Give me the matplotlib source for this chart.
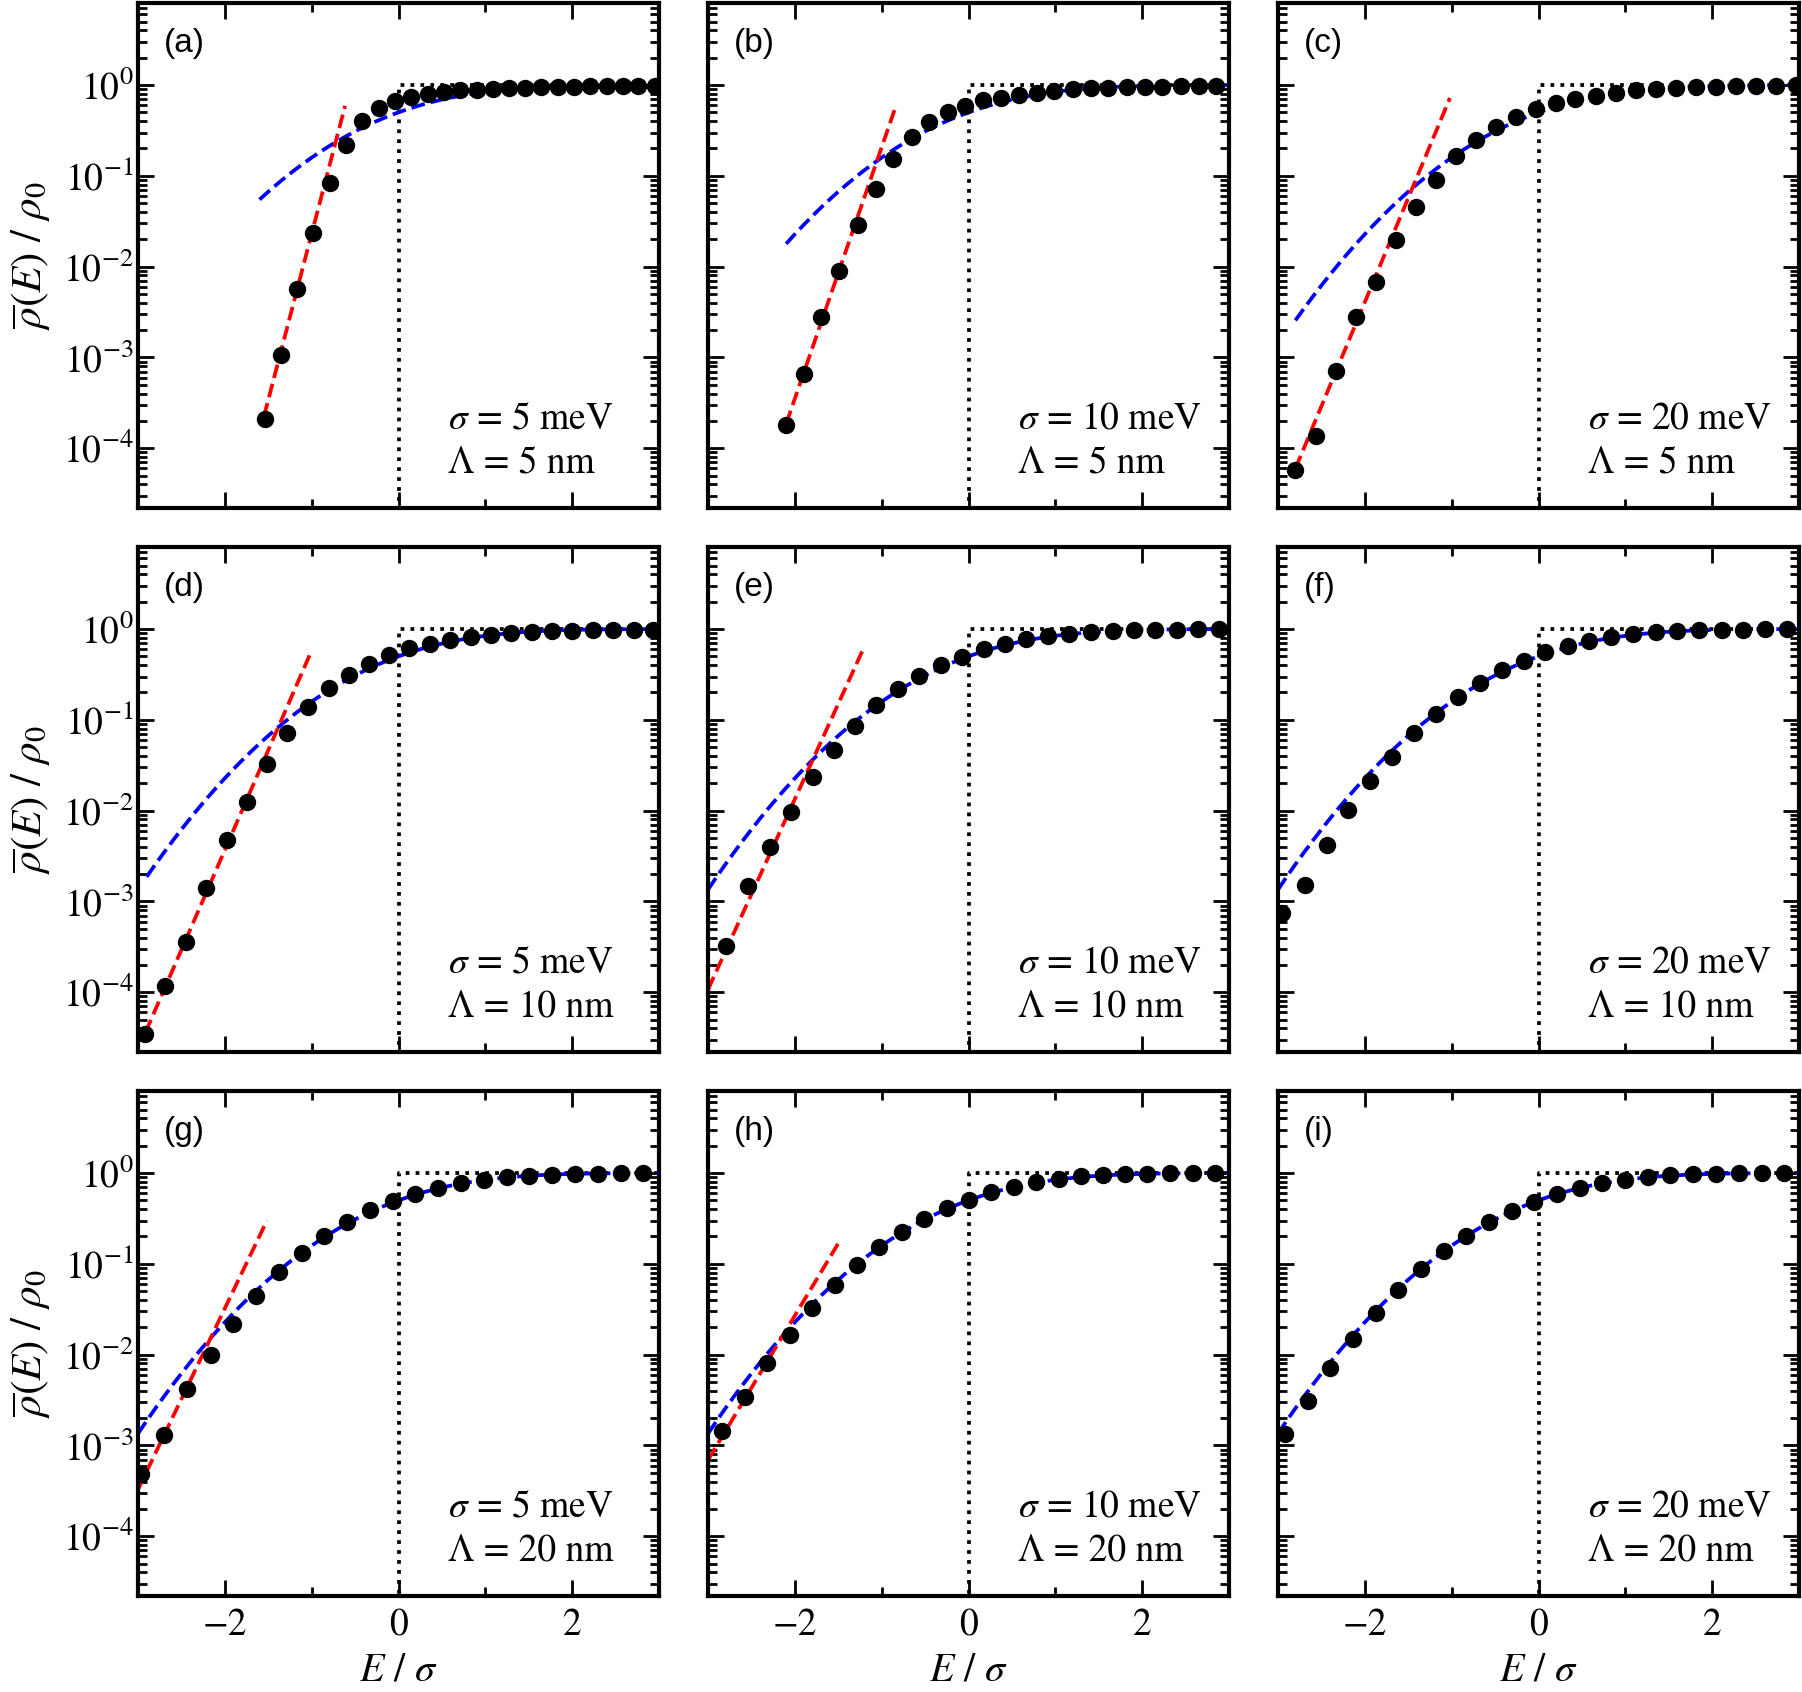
import numpy as np
import matplotlib
matplotlib.use("Agg")
import matplotlib.pyplot as plt
from matplotlib.ticker import LogLocator, MultipleLocator

plt.rcParams["font.family"] = ["STIXGeneral", "DejaVu Serif"]
plt.rcParams["mathtext.fontset"] = "stix"

# panel texts
panel_labels = ["(a)", "(b)", "(c)", "(d)", "(e)", "(f)", "(g)", "(h)", "(i)"]
sigma_vals = ["5", "10", "20"]      # columns, meV
lambda_vals = ["5", "10", "20"]     # rows, nm

# simulated points (E/sigma, rho/rho0)
x_a = [-1.54, -1.355, -1.165, -0.98, -0.79, -0.605, -0.415, -0.23, -0.04, 0.145, 0.335, 0.52, 0.71,
       0.90, 1.085, 1.27, 1.46, 1.645, 1.835, 2.02, 2.21, 2.40, 2.585, 2.76, 2.95]
y_a = [2.1e-4, 1.07e-3, 5.7e-3, 0.0232, 0.083, 0.217, 0.40, 0.56, 0.665, 0.736, 0.79, 0.83, 0.873,
       0.89, 0.905, 0.92, 0.93, 0.94, 0.95, 0.96, 0.965, 0.97, 0.975, 0.98, 0.985]

x_b = [-2.10, -1.90, -1.695, -1.49, -1.275, -1.07, -0.865, -0.656, -0.45, -0.24, -0.036, 0.17, 0.378,
       0.58, 0.79, 0.99, 1.20, 1.41, 1.61, 1.82, 2.03, 2.23, 2.445, 2.65, 2.856]
y_b = [1.8e-4, 6.6e-4, 2.77e-3, 8.95e-3, 0.0289, 0.0718, 0.152, 0.268, 0.393, 0.507, 0.59, 0.676, 0.724,
       0.775, 0.815, 0.86, 0.90, 0.925, 0.935, 0.945, 0.955, 0.962, 0.97, 0.977, 0.983]

x_c = [-2.80, -2.567, -2.33, -2.10, -1.87, -1.64, -1.41, -1.18, -0.95, -0.72, -0.49, -0.263, -0.03,
       0.20, 0.426, 0.657, 0.888, 1.12, 1.35, 1.58, 1.81, 2.04, 2.27, 2.50, 2.73, 2.96]
y_c = [5.7e-5, 1.37e-4, 7.1e-4, 2.8e-3, 6.76e-3, 0.0197, 0.045, 0.090, 0.164, 0.25, 0.346, 0.446, 0.542,
       0.627, 0.70, 0.762, 0.822, 0.873, 0.904, 0.934, 0.95, 0.958, 0.966, 0.975, 0.983, 0.99]

x_d = [-2.925, -2.69, -2.45, -2.215, -1.98, -1.75, -1.515, -1.28, -1.04, -0.805, -0.575, -0.34, -0.105,
       0.125, 0.36, 0.595, 0.83, 1.06, 1.30, 1.535, 1.77, 2.0, 2.24, 2.47, 2.71, 2.935]
y_d = [3.5e-5, 1.16e-4, 3.55e-4, 1.4e-3, 4.8e-3, 0.0126, 0.033, 0.072, 0.138, 0.222, 0.31, 0.412, 0.511,
       0.618, 0.685, 0.753, 0.813, 0.857, 0.90, 0.93, 0.95, 0.96, 0.967, 0.975, 0.98, 0.985]

x_e = [-2.79, -2.54, -2.29, -2.04, -1.79, -1.55, -1.31, -1.06, -0.81, -0.565, -0.32, -0.073, 0.173,
       0.42, 0.665, 0.91, 1.16, 1.41, 1.66, 1.905, 2.15, 2.40, 2.64, 2.89]
y_e = [3.2e-4, 1.49e-3, 3.95e-3, 9.75e-3, 0.0234, 0.047, 0.086, 0.144, 0.218, 0.302, 0.398, 0.493, 0.597,
       0.685, 0.772, 0.834, 0.887, 0.925, 0.95, 0.966, 0.975, 0.985, 0.99, 0.99]

x_f = [-2.95, -2.69, -2.43, -2.19, -1.935, -1.685, -1.434, -1.18, -0.93, -0.677, -0.42, -0.17, 0.08,
       0.335, 0.585, 0.837, 1.09, 1.35, 1.60, 1.85, 2.11, 2.36, 2.61, 2.86]
y_f = [7.4e-4, 1.53e-3, 4.2e-3, 0.0101, 0.0211, 0.0386, 0.0718, 0.115, 0.179, 0.257, 0.353, 0.449, 0.557,
       0.65, 0.733, 0.813, 0.879, 0.925, 0.957, 0.97, 0.98, 0.985, 0.99, 0.99]

x_g = [-2.965, -2.70, -2.43, -2.165, -1.905, -1.64, -1.38, -1.115, -0.855, -0.59, -0.33, -0.065, 0.195,
       0.46, 0.72, 0.985, 1.245, 1.505, 1.77, 2.03, 2.295, 2.56, 2.82]
y_g = [4.85e-4, 1.29e-3, 4.16e-3, 0.010, 0.022, 0.0444, 0.0807, 0.131, 0.201, 0.288, 0.388, 0.496, 0.59,
       0.692, 0.782, 0.839, 0.90, 0.93, 0.957, 0.974, 0.982, 0.99, 0.995]

x_h = [-2.835, -2.574, -2.323, -2.06, -1.80, -1.54, -1.285, -1.025, -0.765, -0.51, -0.25, 0.01, 0.264,
       0.524, 0.775, 1.04, 1.30, 1.55, 1.805, 2.06, 2.32, 2.58, 2.84]
y_h = [1.45e-3, 3.4e-3, 8.0e-3, 0.0166, 0.0327, 0.0578, 0.0978, 0.154, 0.225, 0.314, 0.409, 0.509, 0.612,
       0.705, 0.796, 0.861, 0.916, 0.95, 0.965, 0.98, 0.99, 0.992, 0.995]

x_i = [-2.92, -2.66, -2.40, -2.14, -1.876, -1.617, -1.355, -1.088, -0.837, -0.57, -0.31, -0.052, 0.215,
       0.478, 0.733, 0.996, 1.263, 1.514, 1.78, 2.04, 2.31, 2.57, 2.83]
y_i = [1.35e-3, 3.06e-3, 7.2e-3, 0.0148, 0.0287, 0.0515, 0.0873, 0.139, 0.203, 0.288, 0.381, 0.483, 0.59,
       0.686, 0.769, 0.839, 0.90, 0.94, 0.965, 0.98, 0.99, 0.992, 0.995]

# red dashed tail fits (two end points each), None where absent
red_x = [[-1.55, -0.615], [-2.10, -0.83], [-2.80, -1.02],
         [-2.915, -1.005], [-3.0, -1.22], None,
         [-3.0, -1.515], [-3.0, -1.503], None]
red_y = [[2.24e-4, 0.59], [1.86e-4, 0.61], [5.96e-5, 0.72],
         [3.6e-5, 0.566], [1.07e-4, 0.58], None,
         [3.27e-4, 0.30], [6.9e-4, 0.166], None]

# blue dashed curve, same in every panel (read at steps of 0.1 in E/sigma)
blue_x = np.round(np.linspace(-3, 3, 61), 1)
blue_y = [0.00135, 0.00187, 0.00256, 0.00347, 0.00466, 0.00621, 0.00820, 0.01072, 0.01390, 0.01786,
          0.02275, 0.02872, 0.03593, 0.04457, 0.05480, 0.06681, 0.08076, 0.09680, 0.1151, 0.1357,
          0.1587, 0.1841, 0.2119, 0.2420, 0.2743, 0.3085, 0.3446, 0.3821, 0.4207, 0.4602,
          0.5,
          0.5398, 0.5793, 0.6179, 0.6554, 0.6915, 0.7257, 0.7580, 0.7881, 0.8159, 0.8413,
          0.8643, 0.8849, 0.9032, 0.9192, 0.9332, 0.9452, 0.9554, 0.9641, 0.9713, 0.9772,
          0.9821, 0.9861, 0.9893, 0.9918, 0.9938, 0.9953, 0.9965, 0.9974, 0.9981, 0.9987]
blue_start = [-1.6, -2.1, -2.8, -2.9, -3.0, -3.0, -3.0, -3.0, -3.0]

# step function rho0 * theta(E)
step_x = [0, 0, 3]
step_y = [1e-6, 1, 1]

xs = [x_a, x_b, x_c, x_d, x_e, x_f, x_g, x_h, x_i]
ys = [y_a, y_b, y_c, y_d, y_e, y_f, y_g, y_h, y_i]

W, H = 1802, 1692
fig = plt.figure(figsize=(W / 100, H / 100), dpi=100)
col_left = [138, 708, 1278]
row_top = [3, 547, 1091]
pw, ph = 521, 505

blue_x_arr = np.array(blue_x)
blue_y_arr = np.array(blue_y)

for k in range(9):
    r, c = divmod(k, 3)
    ax = fig.add_axes([col_left[c] / W, 1 - (row_top[r] + ph) / H, pw / W, ph / H])
    ax.set_yscale("log")

    ax.plot(step_x, step_y, color="black", ls=":", lw=2.7, zorder=1)
    m = blue_x_arr >= blue_start[k] - 1e-9
    ax.plot(blue_x_arr[m], blue_y_arr[m], color="blue", ls="--", lw=2.7, zorder=2)
    if red_x[k] is not None:
        ax.plot(red_x[k], red_y[k], color="red", ls="--", lw=2.7, zorder=2)
    ax.plot(xs[k], ys[k], "o", color="black", ms=11.5, zorder=3)

    ax.set_xlim(-3, 3)
    ax.set_ylim(2.2e-5, 8)
    ax.xaxis.set_major_locator(MultipleLocator(2))
    ax.xaxis.set_minor_locator(MultipleLocator(1))
    ax.yaxis.set_major_locator(LogLocator(base=10, numticks=100))
    ax.yaxis.set_minor_locator(LogLocator(base=10, subs=np.arange(2, 10), numticks=100))

    ax.tick_params(which="both", direction="in", top=True, right=True)
    ax.tick_params(which="major", length=11.5, width=2, labelsize=27)
    ax.tick_params(which="minor", length=6.5, width=2)
    ax.tick_params(axis="x", pad=9)
    ax.tick_params(axis="y", pad=3)
    for sp in ax.spines.values():
        sp.set_linewidth(3)

    if c == 0:
        ax.set_ylabel(r"$\overline{\rho}(E)\ /\ \rho_0$", fontsize=31, va="center")
        ax.yaxis.set_label_coords(-0.205, 0.5)
    else:
        ax.tick_params(axis="y", labelleft=False)
    if r == 2:
        ax.set_xlabel(r"$E\ /\ \sigma$", fontsize=29, va="center")
        ax.xaxis.set_label_coords(0.5, -0.148)
    else:
        ax.tick_params(axis="x", labelbottom=False)

    ax.text(0.05, 0.92, panel_labels[k], transform=ax.transAxes, fontsize=24,
            family="Liberation Sans", ha="left", va="center")
    ax.text(0.595, 0.176, r"$\sigma$ = " + sigma_vals[c] + " meV", transform=ax.transAxes,
            fontsize=27, ha="left", va="center")
    ax.text(0.595, 0.088, "\u039b = " + lambda_vals[r] + " nm", transform=ax.transAxes,
            fontsize=27, ha="left", va="center")

fig.savefig("out.png", dpi=100)
